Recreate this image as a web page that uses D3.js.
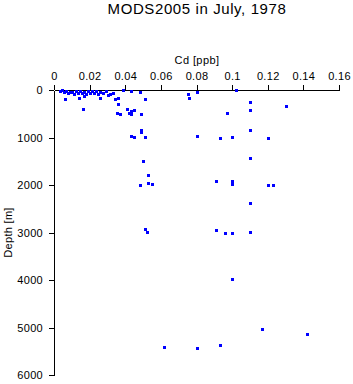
<!DOCTYPE html>
<html>
<head>
<meta charset="utf-8">
<script src="https://d3js.org/d3.v7.min.js"></script>
<style>
  body { margin: 0; padding: 0; background: #fff; }
  svg { display: block; font-family: "Liberation Sans", Arial, sans-serif; }
  .axis path, .axis line { stroke: #000; shape-rendering: crispEdges; }
  .axis text { font-size: 11px; fill: #000; letter-spacing: 0.3px; }
  .dot { fill: #0000ff; shape-rendering: crispEdges; }
</style>
</head>
<body>
<div id="chart"></div>
<script>
  // Cd concentration [ppb] and matching depth [m]
  var cd = [
    0.0033, 0.0044, 0.0055, 0.0066, 0.0077, 0.0089, 0.0100, 0.0111, 0.0122, 0.0134,
    0.0145, 0.0156, 0.0167, 0.0179, 0.0190, 0.0201, 0.0212, 0.0223, 0.0235, 0.0246,
    0.0257, 0.0274, 0.0291, 0.0302, 0.0313, 0.0330, 0.0385, 0.0433, 0.0483, 0.0141,
    0.0169, 0.0061, 0.0160, 0.0261, 0.0343, 0.0360, 0.0362, 0.0512, 0.0410, 0.0431,
    0.0450, 0.0351, 0.0371, 0.0422, 0.0433, 0.0489, 0.0489, 0.0489, 0.0433, 0.0450,
    0.0512, 0.0500, 0.0529, 0.0482, 0.0528, 0.0551, 0.0512, 0.0523, 0.0620, 0.0800,
    0.0931, 0.1168, 0.1421, 0.1000, 0.0910, 0.0961, 0.1000, 0.1101, 0.1101, 0.0910,
    0.1000, 0.1000, 0.1200, 0.1230, 0.1101, 0.0800, 0.0931, 0.1000, 0.1200, 0.1101,
    0.0972, 0.1101, 0.1101, 0.1300, 0.1020, 0.0800, 0.0751, 0.0759
  ];
  var depth = [
    21, 10, 42, 21, 63, 32, 42, 74, 21, 53,
    21, 63, 42, 84, 21, 63, 21, 53, 21, 84,
    42, 63, 21, 95, 84, 57, 6, 21, 32, 162,
    126, 196, 406, 175, 189, 162, 301, 196, 406, 442,
    427, 486, 512, 491, 512, 512, 848, 891, 975, 983,
    996, 1501, 1789, 2006, 1958, 1985, 2933, 2996, 5417, 5438,
    5375, 5038, 5131, 3985, 2954, 3011, 3011, 2996, 2385, 1909,
    1909, 1985, 2006, 2006, 1438, 975, 1017, 996, 1011, 848,
    491, 415, 253, 337, 0, 48, 91, 175
  ];
  var xTicks = [0, 0.02, 0.04, 0.06, 0.08, 0.1, 0.12, 0.14, 0.16];
  var yTicks = [0, 1000, 2000, 3000, 4000, 5000, 6000];

  var width = 353, height = 384;
  var plotLeft = 54, plotRight = 339, plotTop = 90, plotBottom = 375;

  var svg = d3.select("#chart").append("svg")
    .attr("width", width)
    .attr("height", height);

  var x = d3.scaleLinear().domain([0, 0.16]).range([plotLeft, plotRight]);
  var y = d3.scaleLinear().domain([0, 6000]).range([plotTop, plotBottom]);

  svg.append("g")
    .attr("class", "x axis")
    .attr("transform", "translate(0," + plotTop + ")")
    .call(d3.axisTop(x).tickValues(xTicks).tickSize(5).tickPadding(5).tickSizeOuter(0)
      .tickFormat(function(d) { return String(+d.toFixed(2)); }));

  svg.append("g")
    .attr("class", "y axis")
    .attr("transform", "translate(" + plotLeft + ",0)")
    .call(d3.axisLeft(y).tickValues(yTicks).tickSize(5).tickPadding(6).tickSizeOuter(0)
      .tickFormat(d3.format("d")));

  // title and axis labels
  svg.append("text")
    .attr("x", 197).attr("y", 14)
    .attr("text-anchor", "middle")
    .style("font-size", "15px")
    .style("letter-spacing", "0.6px")
    .text("MODS2005 in July, 1978");

  svg.append("text")
    .attr("x", 197).attr("y", 64)
    .attr("text-anchor", "middle")
    .style("font-size", "11px")
    .style("letter-spacing", "0.4px")
    .text("Cd [ppb]");

  svg.append("text")
    .attr("transform", "translate(12," + ((plotTop + plotBottom) / 2) + ") rotate(-90)")
    .attr("text-anchor", "middle")
    .style("font-size", "11px")
    .style("letter-spacing", "0.3px")
    .text("Depth [m]");

  var pts = cd.map(function(v, i) { return { v: v, d: depth[i] }; });

  svg.selectAll(".dot")
    .data(pts)
    .enter().append("rect")
    .attr("class", "dot")
    .attr("x", function(p) { return Math.round(x(p.v)) - 1.5; })
    .attr("y", function(p) { return Math.round(y(p.d)) - 1.5; })
    .attr("width", 3)
    .attr("height", 3);
</script>
</body>
</html>
